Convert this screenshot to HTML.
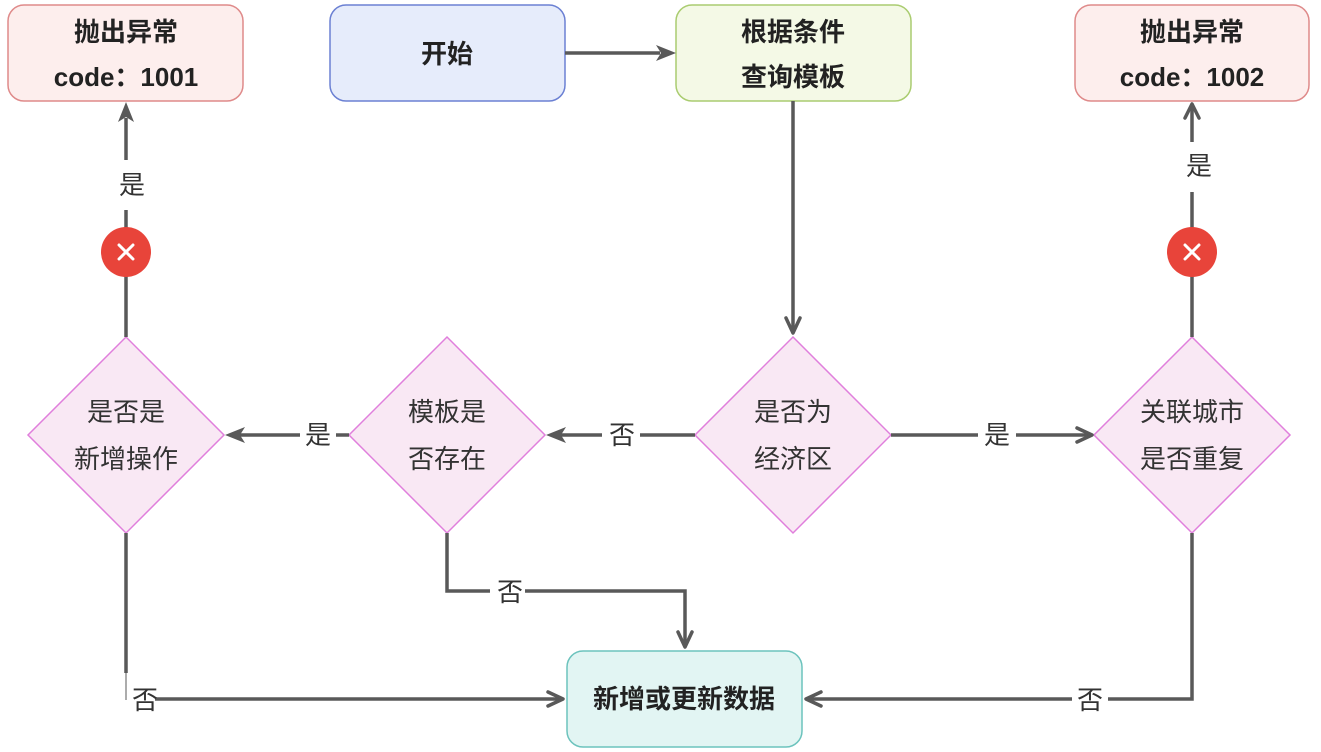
<!DOCTYPE html>
<html><head><meta charset="utf-8"><style>
html,body{margin:0;padding:0;background:#fff;}
svg{display:block;}
text{font-family:"Liberation Sans","Noto Sans CJK SC",sans-serif;fill:#333;}
.b{font-weight:bold;font-size:26px;fill:#222;}
.d{font-size:26px;}
.l{font-size:26px;}
.ln{stroke:#595959;stroke-width:3.5;fill:none;}
.ch{stroke:#595959;stroke-width:3.5;fill:none;stroke-linecap:round;stroke-linejoin:round;}
.fa{fill:#595959;}
</style></head><body>
<svg width="1321" height="752" viewBox="0 0 1321 752">
<rect x="8" y="5" width="235" height="96" rx="16" fill="#fdeeed" stroke="#df8a8a" stroke-width="1.5"/>
<text class="b" x="126" y="41" text-anchor="middle">抛出异常</text>
<text class="b" x="126" y="86" text-anchor="middle">code：1001</text>
<rect x="330" y="5" width="235" height="96" rx="16" fill="#e6ecfb" stroke="#6b80d3" stroke-width="1.5"/>
<text class="b" x="447" y="63" text-anchor="middle">开始</text>
<rect x="676" y="5" width="235" height="96" rx="16" fill="#f4f9e6" stroke="#aacc70" stroke-width="1.5"/>
<text class="b" x="793" y="41" text-anchor="middle">根据条件</text>
<text class="b" x="793" y="86" text-anchor="middle">查询模板</text>
<rect x="1075" y="5" width="234" height="96" rx="16" fill="#fdeeed" stroke="#df8a8a" stroke-width="1.5"/>
<text class="b" x="1192" y="41" text-anchor="middle">抛出异常</text>
<text class="b" x="1192" y="86" text-anchor="middle">code：1002</text>
<rect x="567" y="651" width="235" height="96" rx="16" fill="#e2f5f3" stroke="#6cc3bd" stroke-width="1.5"/>
<text class="b" x="684" y="708" text-anchor="middle">新增或更新数据</text>
<g fill="#f9e8f4" stroke="#e07fdc" stroke-width="1.5">
<polygon points="126,337 224,435 126,533 28,435"/>
<polygon points="447,337 545,435 447,533 349,435"/>
<polygon points="793,337 891,435 793,533 695,435"/>
<polygon points="1192,337 1290,435 1192,533 1094,435"/>
</g>
<text class="d" x="126" y="421" text-anchor="middle">是否是</text>
<text class="d" x="126" y="468" text-anchor="middle">新增操作</text>
<text class="d" x="447" y="421" text-anchor="middle">模板是</text>
<text class="d" x="447" y="468" text-anchor="middle">否存在</text>
<text class="d" x="793" y="421" text-anchor="middle">是否为</text>
<text class="d" x="793" y="468" text-anchor="middle">经济区</text>
<text class="d" x="1192" y="421" text-anchor="middle">关联城市</text>
<text class="d" x="1192" y="468" text-anchor="middle">是否重复</text>
<line class="ln" x1="565" y1="53" x2="660" y2="53"/>
<polygon class="fa" points="676,53 656,45 661,53 656,61"/>
<line class="ln" x1="793" y1="101" x2="793" y2="333"/>
<polyline class="ch" points="786,318 793,333 800,318"/>
<line class="ln" x1="695" y1="435" x2="640" y2="435"/>
<line class="ln" x1="602" y1="435" x2="560" y2="435"/>
<polygon class="fa" points="546,435 566,427 561,435 566,443"/>
<text class="l" x="622" y="444" text-anchor="middle">否</text>
<line class="ln" x1="349" y1="435" x2="336" y2="435"/>
<line class="ln" x1="300" y1="435" x2="240" y2="435"/>
<polygon class="fa" points="225,435 245,427 240,435 245,443"/>
<text class="l" x="318" y="444" text-anchor="middle">是</text>
<line class="ln" x1="891" y1="435" x2="978" y2="435"/>
<line class="ln" x1="1016" y1="435" x2="1092" y2="435"/>
<polyline class="ch" points="1077,428 1092,435 1077,442"/>
<text class="l" x="997" y="444" text-anchor="middle">是</text>
<line class="ln" x1="126" y1="337" x2="126" y2="210"/>
<line class="ln" x1="126" y1="160" x2="126" y2="118"/>
<polygon class="fa" points="126,102 118,122 126,117 134,122"/>
<text class="l" x="132" y="194" text-anchor="middle">是</text>
<circle cx="126" cy="252" r="25" fill="#e8443a"/>
<path d="M119,245 L133,259 M133,245 L119,259" stroke="#fff" stroke-width="3" stroke-linecap="round"/>
<line class="ln" x1="1192" y1="337" x2="1192" y2="192"/>
<line class="ln" x1="1192" y1="142" x2="1192" y2="104"/>
<polyline class="ch" points="1185,118 1192,104 1199,118"/>
<text class="l" x="1199" y="175" text-anchor="middle">是</text>
<circle cx="1192" cy="252" r="25" fill="#e8443a"/>
<path d="M1185,245 L1199,259 M1199,245 L1185,259" stroke="#fff" stroke-width="3" stroke-linecap="round"/>
<polyline class="ln" points="447,533 447,591 490,591"/>
<polyline class="ln" points="525,591 685,591 685,647"/>
<polyline class="ch" points="678,632 685,647 692,632"/>
<text class="l" x="510" y="601" text-anchor="middle">否</text>
<line class="ln" x1="126" y1="533" x2="126" y2="673"/>
<line x1="126" y1="673" x2="126" y2="700" stroke="#595959" stroke-width="1"/>
<line class="ln" x1="155" y1="699" x2="563" y2="699"/>
<polyline class="ch" points="548,692 563,699 548,706"/>
<text class="l" x="145" y="709" text-anchor="middle">否</text>
<polyline class="ln" points="1192,533 1192,699 1108,699"/>
<line class="ln" x1="1072" y1="699" x2="806" y2="699"/>
<polyline class="ch" points="821,692 806,699 821,706"/>
<text class="l" x="1090" y="709" text-anchor="middle">否</text>
</svg>
</body></html>
